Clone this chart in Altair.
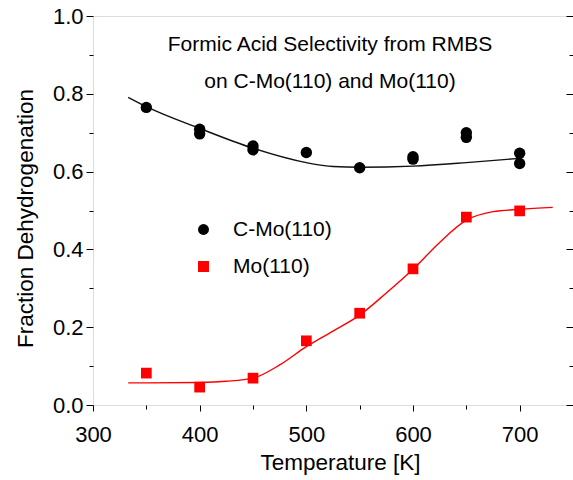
import altair as alt
import pandas as pd

FONT = "Liberation Sans"

series_names = ["C-Mo(110)", "Mo(110)"]
series_colors = ["#000000", "#ff0000"]
series_shapes = ["circle", "square"]

# measured points
cmo_temp = [350, 400, 400, 450, 450, 500, 550, 600, 600, 650, 650, 700, 700]
cmo_frac = [0.765, 0.709, 0.697, 0.666, 0.656, 0.649, 0.610, 0.638, 0.632, 0.700, 0.688, 0.647, 0.621]
mo_temp = [350, 400, 450, 500, 550, 600, 650, 700]
mo_frac = [0.082, 0.046, 0.069, 0.165, 0.236, 0.350, 0.483, 0.499]

# fitted curves
cmo_fit_temp = [333, 350, 400, 450, 500, 525, 550, 600, 650, 700]
cmo_fit_frac = [0.791, 0.767, 0.711, 0.660, 0.623, 0.613, 0.611, 0.614, 0.623, 0.634]
mo_fit_temp = [333, 350, 400, 425, 450, 475, 500, 525, 550, 575, 600, 625, 650, 675, 700, 731]
mo_fit_frac = [0.057, 0.057, 0.058, 0.061, 0.069, 0.103, 0.150, 0.190, 0.231, 0.288, 0.349, 0.418, 0.475, 0.497, 0.503, 0.508]

x_major = [300, 400, 500, 600, 700]
x_minor = [350, 450, 550, 650]
y_major = [0.0, 0.2, 0.4, 0.6, 0.8, 1.0]
y_minor = [0.1, 0.3, 0.5, 0.7, 0.9]
title_lines = ["Formic Acid Selectivity from RMBS", "on C-Mo(110) and Mo(110)"]

cmo_df = pd.DataFrame({"T": cmo_temp, "F": cmo_frac, "series": series_names[0]})
mo_df = pd.DataFrame({"T": mo_temp, "F": mo_frac, "series": series_names[1]})
cmo_fit_df = pd.DataFrame({"T": cmo_fit_temp, "F": cmo_fit_frac})
mo_fit_df = pd.DataFrame({"T": mo_fit_temp, "F": mo_fit_frac})

x_scale = alt.Scale(domain=[300, 750], nice=False, zero=False)
y_scale = alt.Scale(domain=[0, 1], nice=False, zero=False)
color_scale = alt.Scale(domain=series_names, range=series_colors)
shape_scale = alt.Scale(domain=series_names, range=series_shapes)

legend = alt.Legend(
    title=None, orient="none", legendX=100, legendY=203, padding=0,
    labelFont=FONT, labelFontSize=21, labelColor="#000000", labelOffset=19,
    rowPadding=15, symbolSize=120, symbolOpacity=1, symbolStrokeWidth=0,
)

base_axis = dict(labelFont=FONT, labelColor="#000000", tickColor="#000000",
                 domain=False, grid=False, titleFont=FONT, titleColor="#000000",
                 titleFontWeight="normal", labelFlush=False)

x_major_axis = alt.Axis(orient="bottom", values=x_major, format="d", tickSize=6,
                        labelFontSize=22, labelPadding=13, title="Temperature [K]",
                        titleFontSize=22.5, titleX=247, titleY=46, titleAlign="center",
                        titleBaseline="top", **base_axis)
y_major_axis = alt.Axis(orient="left", values=y_major, format=".1f", tickSize=7,
                        labelFontSize=22, labelPadding=3, title="Fraction Dehydrogenation",
                        titleFontSize=22.5, titleX=-56, titleY=202, titleAngle=270,
                        titleAlign="center", titleBaseline="bottom", **base_axis)
x_minor_axis = alt.Axis(orient="bottom", values=x_minor, tickSize=4, labels=False,
                        title=None, **base_axis)
y_minor_axis = alt.Axis(orient="left", values=y_minor, tickSize=4, labels=False,
                        title=None, **base_axis)
y_right_major = alt.Axis(orient="right", values=y_major, tickSize=7, offset=-7,
                         labels=False, title=None, **base_axis)
y_right_minor = alt.Axis(orient="right", values=y_minor, tickSize=4, offset=-4,
                         labels=False, title=None, **base_axis)

cmo_line = alt.Chart(cmo_fit_df).mark_line(color="#111111", strokeWidth=1.4,
                                           interpolate="monotone").encode(
    x=alt.X("T:Q", scale=x_scale, axis=x_major_axis),
    y=alt.Y("F:Q", scale=y_scale, axis=y_major_axis),
)
mo_line = alt.Chart(mo_fit_df).mark_line(color="#ff0000", strokeWidth=1.4,
                                         interpolate="monotone").encode(
    x=alt.X("T:Q", scale=x_scale, axis=x_minor_axis),
    y=alt.Y("F:Q", scale=y_scale, axis=y_minor_axis),
)
cmo_pts = alt.Chart(cmo_df).mark_point(filled=True, opacity=1, size=130).encode(
    x=alt.X("T:Q", scale=x_scale, axis=None),
    y=alt.Y("F:Q", scale=y_scale, axis=y_right_major),
    color=alt.Color("series:N", scale=color_scale, legend=legend),
    shape=alt.Shape("series:N", scale=shape_scale, legend=legend),
)
mo_pts = alt.Chart(mo_df).mark_point(filled=True, opacity=1, size=115).encode(
    x=alt.X("T:Q", scale=x_scale, axis=None),
    y=alt.Y("F:Q", scale=y_scale, axis=y_right_minor),
    color=alt.Color("series:N", scale=color_scale, legend=legend),
    shape=alt.Shape("series:N", scale=shape_scale, legend=legend),
)
notes = alt.Chart(pd.DataFrame({"k": [0]})).mark_text(
    font=FONT, fontSize=21, color="#000000", align="center", baseline="middle",
    lineHeight=37,
).encode(
    x=alt.value(237), y=alt.value(29), text=alt.value(title_lines),
)

chart = alt.layer(cmo_line, mo_line, cmo_pts, mo_pts, notes).resolve_axis(
    x="independent", y="independent"
).properties(
    width=480, height=389,
    autosize=alt.AutoSizeParams(type="none"),
    padding={"left": 93, "top": 16, "right": 0, "bottom": 75},
).configure_view(
    stroke="#000000", strokeWidth=1
).configure(background="white")

chart.save("out.html", embed_options={"renderer": "svg", "actions": False})
